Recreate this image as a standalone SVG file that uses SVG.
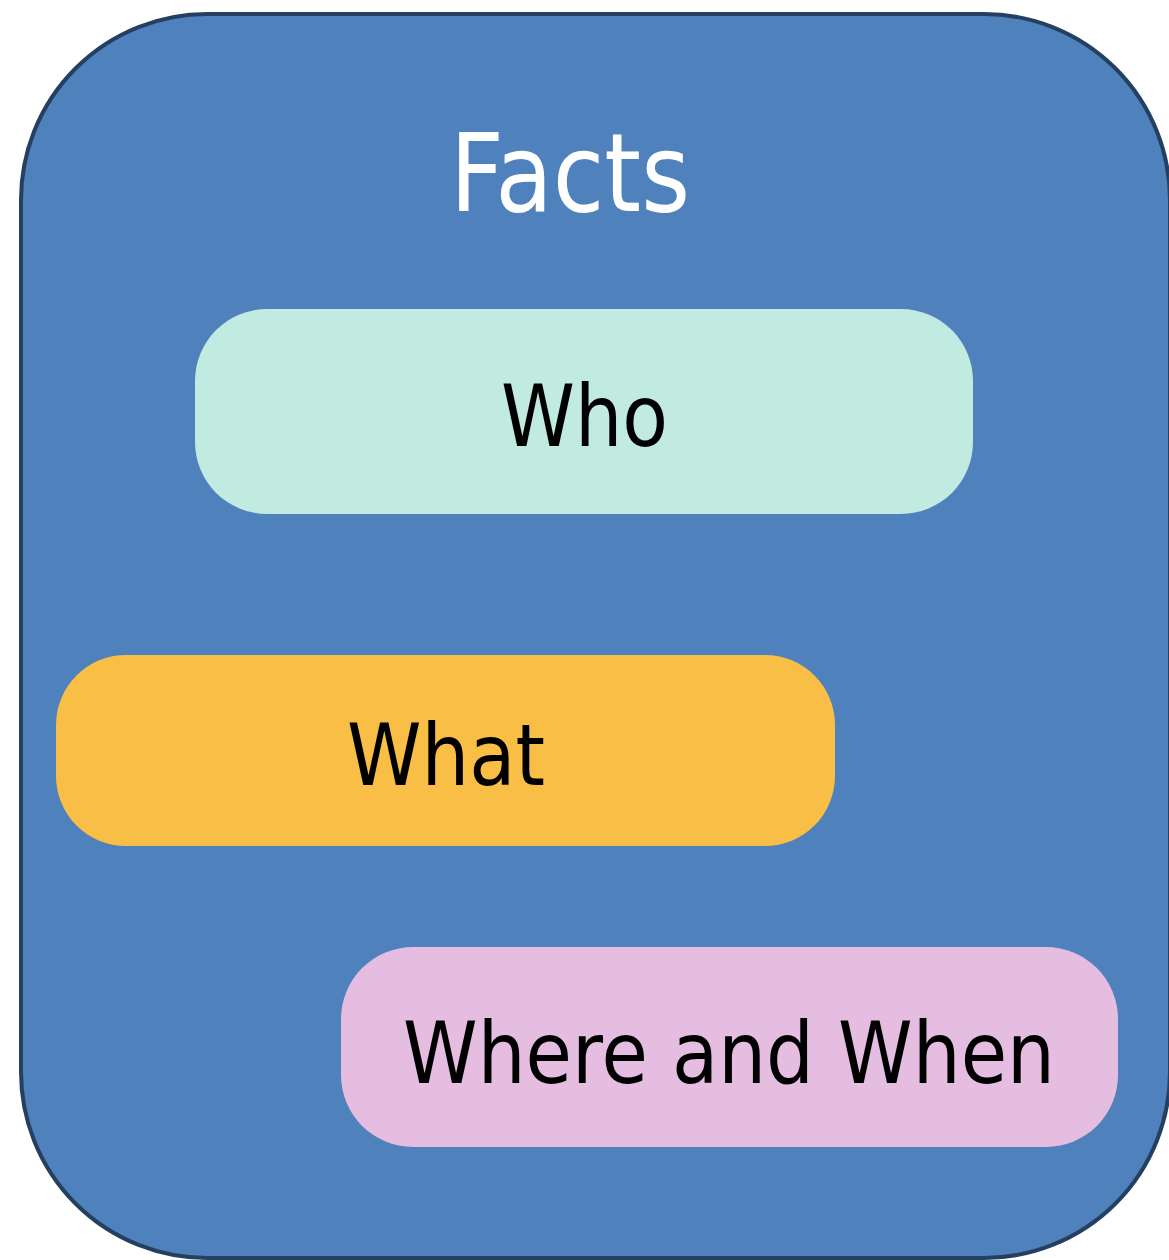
<svg xmlns="http://www.w3.org/2000/svg" width="1169" height="1260" viewBox="0 0 1169 1260">
  <style>
    .lbl { font-family: Tahoma, "DejaVu Sans", Verdana, sans-serif; text-anchor: middle; }
    .item { font-size: 86px; fill: #000000; }
    .title { font-size: 108px; fill: #ffffff; }
  </style>
  <rect width="1169" height="1260" fill="#ffffff"/>
  <g id="facts">
    <rect x="21" y="14" width="1149" height="1244" rx="186" ry="186" fill="#4f81bd" stroke="#243f60" stroke-width="4"/>
    <text class="lbl title" x="570" y="211" textLength="240" lengthAdjust="spacingAndGlyphs">Facts</text>
  </g>
  <g id="who">
    <rect x="195" y="309" width="778" height="205" rx="72" ry="72" fill="#c1eae1"/>
    <text class="lbl item" x="584.5" y="446" textLength="167" lengthAdjust="spacingAndGlyphs">Who</text>
  </g>
  <g id="what">
    <rect x="56" y="655" width="779" height="191" rx="70" ry="70" fill="#f9be45"/>
    <text class="lbl item" x="446" y="785" textLength="198" lengthAdjust="spacingAndGlyphs">What</text>
  </g>
  <g id="where-when">
    <rect x="341" y="947" width="777" height="200" rx="72" ry="72" fill="#e5bde1"/>
    <text class="lbl item" x="729" y="1083" textLength="652" lengthAdjust="spacingAndGlyphs">Where and When</text>
  </g>
  <g id="connectors"/>
</svg>
